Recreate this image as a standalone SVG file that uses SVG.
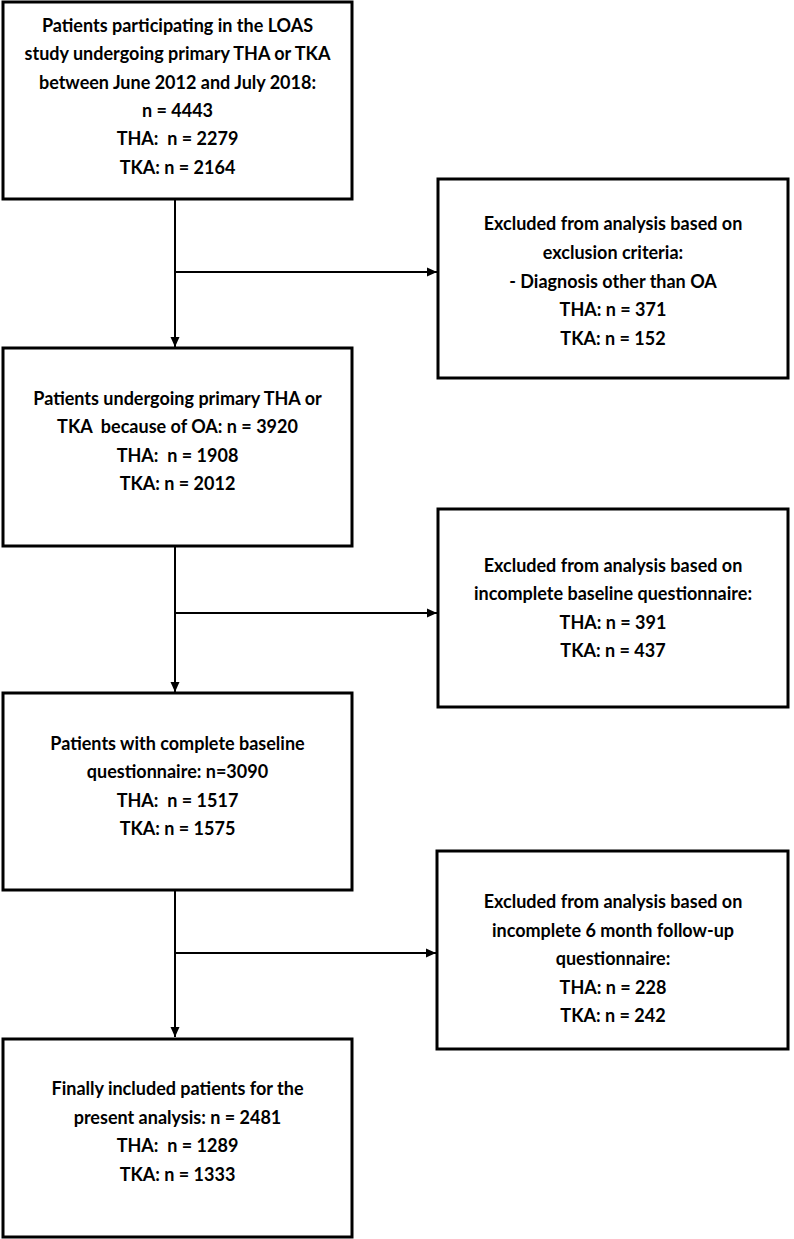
<svg xmlns="http://www.w3.org/2000/svg" width="794" height="1239" viewBox="0 0 794 1239">
<defs>
<style>
.box{fill:#fff;stroke:#000;stroke-width:3}
.t{font-family:Lato,"Open Sans",sans-serif;font-weight:bold;font-size:18px;fill:#000;text-anchor:middle;white-space:pre}
.c{stroke:#000;stroke-width:2;fill:none}
</style>
<marker id="ah" viewBox="0 0 10 10" refX="10" refY="5" markerWidth="10" markerHeight="10" markerUnits="userSpaceOnUse" orient="auto">
<path d="M0,0.5 L10,5 L0,9.5 Z" fill="#000"/>
</marker>
</defs>
<rect width="794" height="1239" fill="#fff"/>
<g id="connectors">
<line class="c" x1="175" y1="200" x2="175" y2="347" marker-end="url(#ah)"/>
<line class="c" x1="175" y1="272" x2="437" y2="272" marker-end="url(#ah)"/>
<line class="c" x1="175" y1="547" x2="175" y2="692" marker-end="url(#ah)"/>
<line class="c" x1="175" y1="613" x2="437" y2="613" marker-end="url(#ah)"/>
<line class="c" x1="175" y1="891" x2="175" y2="1037" marker-end="url(#ah)"/>
<line class="c" x1="175" y1="953" x2="436" y2="953" marker-end="url(#ah)"/>
</g>
<g id="n1">
<rect class="box" x="3" y="2" width="349" height="197"/>
<text class="t" xml:space="preserve"><tspan x="177.5" y="32">Patients participating in the LOAS</tspan><tspan x="177.5" y="60.3">study undergoing primary THA or TKA</tspan><tspan x="177.5" y="88.6">between June 2012 and July 2018:</tspan><tspan x="177.5" y="116.9">n = 4443</tspan><tspan x="177.5" y="145.2">THA:  n = 2279</tspan><tspan x="177.5" y="173.5">TKA: n = 2164</tspan></text>
</g>
<g id="e1">
<rect class="box" x="438" y="179" width="350" height="199"/>
<text class="t" xml:space="preserve"><tspan x="613" y="230">Excluded from analysis based on</tspan><tspan x="613" y="258.8">exclusion criteria:</tspan><tspan x="613" y="287.5">- Diagnosis other than OA</tspan><tspan x="613" y="316.3">THA: n = 371</tspan><tspan x="613" y="345">TKA: n = 152</tspan></text>
</g>
<g id="n2">
<rect class="box" x="3" y="348" width="349" height="198"/>
<text class="t" xml:space="preserve"><tspan x="177.5" y="405">Patients undergoing primary THA or</tspan><tspan x="177.5" y="433.3">TKA  because of OA: n = 3920</tspan><tspan x="177.5" y="461.6">THA:  n = 1908</tspan><tspan x="177.5" y="490">TKA: n = 2012</tspan></text>
</g>
<g id="e2">
<rect class="box" x="438" y="509" width="350" height="198"/>
<text class="t" xml:space="preserve"><tspan x="613" y="571.5">Excluded from analysis based on</tspan><tspan x="613" y="600">incomplete baseline questionnaire:</tspan><tspan x="613" y="628.5">THA: n = 391</tspan><tspan x="613" y="657">TKA: n = 437</tspan></text>
</g>
<g id="n3">
<rect class="box" x="3" y="693" width="349" height="197"/>
<text class="t" xml:space="preserve"><tspan x="177.5" y="750">Patients with complete baseline</tspan><tspan x="177.5" y="778.3">questionnaire: n=3090</tspan><tspan x="177.5" y="806.6">THA:  n = 1517</tspan><tspan x="177.5" y="835">TKA: n = 1575</tspan></text>
</g>
<g id="e3">
<rect class="box" x="437" y="851" width="351" height="198"/>
<text class="t" xml:space="preserve"><tspan x="613" y="908">Excluded from analysis based on</tspan><tspan x="613" y="936.5">incomplete 6 month follow-up</tspan><tspan x="613" y="965">questionnaire:</tspan><tspan x="613" y="993.5">THA: n = 228</tspan><tspan x="613" y="1022">TKA: n = 242</tspan></text>
</g>
<g id="n4">
<rect class="box" x="3" y="1039" width="349" height="198"/>
<text class="t" xml:space="preserve"><tspan x="177.5" y="1095">Finally included patients for the</tspan><tspan x="177.5" y="1123.7">present analysis: n = 2481</tspan><tspan x="177.5" y="1152.3">THA:  n = 1289</tspan><tspan x="177.5" y="1181">TKA: n = 1333</tspan></text>
</g>
</svg>
